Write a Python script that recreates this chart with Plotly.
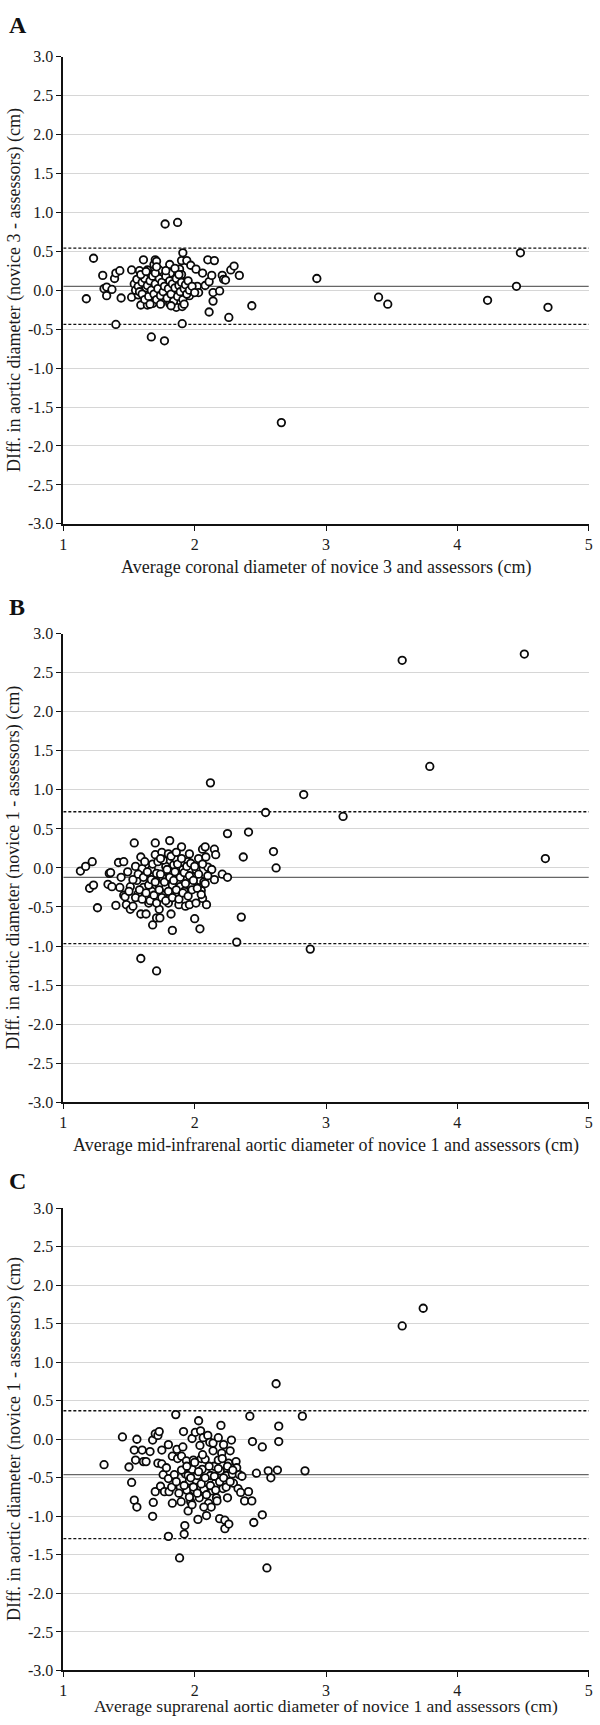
import plotly.graph_objects as go

W, H = 600, 1725

# ---------------- data ----------------
y_ticks = [3.0, 2.5, 2.0, 1.5, 1.0, 0.5, 0.0, -0.5, -1.0, -1.5, -2.0, -2.5, -3.0]
y_ticktext = ["3.0", "2.5", "2.0", "1.5", "1.0", "0.5", "0.0", "-0.5", "-1.0", "-1.5", "-2.0", "-2.5", "-3.0"]
x_ticks = [1, 2, 3, 4, 5]
x_ticktext = ["1", "2", "3", "4", "5"]

panel_letters = ["A", "B", "C"]
x_titles = [
    "Average coronal diameter of novice 3 and assessors (cm)",
    "Average mid-infrarenal aortic diameter of novice 1 and assessors (cm)",
    "Average suprarenal aortic diameter of novice 1 and assessors (cm)",
]
y_titles = [
    "DIff. in aortic diameter (novice 3 - assessors) (cm)",
    "DIff. in aortic diameter (novice 1 - assessors) (cm)",
    "DIff. in aortic diameter (novice 1 - assessors) (cm)",
]

# mean difference, upper and lower limits of agreement
a_limits = [0.05, 0.54, -0.44]
b_limits = [-0.12, 0.72, -0.97]
c_limits = [-0.46, 0.37, -1.29]

a_points = [
    (1.175, -0.11), (1.23, 0.41), (1.30, 0.19), (1.31, 0.02), (1.33, 0.04), (1.33, -0.07),
    (1.37, 0.01), (1.39, 0.15), (1.40, 0.22), (1.40, -0.44), (1.43, 0.25), (1.44, -0.10),
    (1.52, 0.26), (1.52, -0.09), (1.54, 0.08), (1.56, 0.14), (1.58, 0.25), (1.57, -0.06),
    (1.59, -0.19), (1.61, 0.39), (1.63, 0.03), (1.64, 0.26), (1.655, 0.20), (1.64, -0.19),
    (1.67, -0.60), (1.69, 0.33), (1.70, 0.39), (1.71, 0.37), (1.68, -0.17), (1.73, 0.26),
    (1.74, 0.12), (1.755, 0.02), (1.77, -0.65), (1.775, 0.85), (1.77, -0.10), (1.81, 0.33),
    (1.815, 0.22), (1.81, -0.17), (1.84, 0.12), (1.86, -0.22), (1.87, 0.87), (1.885, 0.27),
    (1.90, 0.20), (1.905, -0.21), (1.905, -0.43), (1.91, 0.48), (1.90, 0.38), (1.94, 0.38),
    (1.93, 0.10), (1.97, 0.32), (1.96, -0.07), (2.01, 0.27), (2.02, 0.05), (2.03, -0.03),
    (2.06, 0.22), (2.08, 0.06), (2.10, 0.39), (2.11, 0.11), (2.11, -0.28), (2.13, 0.19),
    (2.14, -0.03), (2.14, -0.14), (2.15, 0.38), (2.19, -0.01), (2.21, 0.19), (2.22, 0.14),
    (2.235, 0.13), (2.26, -0.35), (2.275, 0.26), (2.30, 0.31), (2.34, 0.19), (2.435, -0.20),
    (2.66, -1.70), (2.93, 0.15), (3.40, -0.09), (3.47, -0.18), (4.23, -0.13), (4.45, 0.05),
    (4.48, 0.48), (4.69, -0.22),
    (1.55, 0.00), (1.57, 0.05), (1.58, -0.02), (1.60, 0.10), (1.60, -0.05), (1.62, 0.15),
    (1.62, -0.12), (1.64, 0.06), (1.65, -0.08), (1.66, 0.12), (1.67, 0.00), (1.68, 0.18),
    (1.69, -0.05), (1.70, 0.08), (1.71, -0.12), (1.72, 0.02), (1.73, 0.15), (1.74, -0.07),
    (1.75, 0.10), (1.76, -0.02), (1.77, 0.05), (1.78, 0.18), (1.79, -0.10), (1.80, 0.02),
    (1.81, 0.12), (1.82, -0.05), (1.83, 0.08), (1.84, -0.14), (1.85, 0.03), (1.86, 0.15),
    (1.87, -0.08), (1.88, 0.06), (1.89, -0.02), (1.90, 0.10), (1.91, -0.12), (1.92, 0.02),
    (1.93, 0.07), (1.94, -0.05), (1.95, 0.12), (1.96, 0.00), (1.98, 0.05), (2.00, -0.03),
    (1.70, 0.22), (1.78, 0.25), (1.85, 0.28), (1.88, 0.20), (1.66, -0.18), (1.74, -0.18),
    (1.82, -0.20), (1.92, -0.18), (1.59, 0.20), (1.63, 0.24), (1.71, 0.30),
]

b_points = [
    (1.13, -0.04), (1.17, 0.02), (1.22, 0.08), (1.20, -0.26), (1.23, -0.22), (1.26, -0.51),
    (1.34, -0.21), (1.35, -0.07), (1.36, -0.06), (1.37, -0.24), (1.40, -0.48), (1.42, 0.07),
    (1.43, -0.25), (1.44, -0.12), (1.46, 0.08), (1.46, -0.35), (1.47, -0.37), (1.49, -0.05),
    (1.48, -0.47), (1.51, -0.24), (1.51, -0.53), (1.53, -0.49), (1.54, 0.32), (1.55, 0.02),
    (1.56, -0.16), (1.57, -0.33), (1.59, 0.14), (1.59, -0.59), (1.59, -1.16), (1.60, -0.01),
    (1.61, -0.25), (1.63, -0.10), (1.63, -0.59), (1.65, -0.45), (1.66, -0.20), (1.67, -0.02),
    (1.675, -0.30), (1.68, -0.73), (1.70, 0.32), (1.70, 0.17), (1.71, -0.07), (1.71, -0.64),
    (1.71, -1.32), (1.73, -0.22), (1.73, -0.53), (1.735, -0.64), (1.75, 0.20), (1.755, -0.12),
    (1.76, -0.35), (1.78, 0.02), (1.78, -0.25), (1.80, 0.18), (1.80, -0.45), (1.81, 0.35),
    (1.81, -0.05), (1.82, -0.59), (1.83, -0.80), (1.83, -0.22), (1.84, 0.04), (1.855, -0.36),
    (1.86, 0.11), (1.87, -0.09), (1.88, -0.47), (1.89, -0.24), (1.90, 0.27), (1.91, -0.02),
    (1.92, -0.30), (1.93, -0.49), (1.94, -0.13), (1.95, 0.08), (1.96, -0.47), (1.97, -0.23),
    (1.985, -0.11), (2.00, -0.65), (2.01, -0.45), (2.01, -0.02), (2.03, 0.12), (2.04, -0.16),
    (2.04, -0.78), (2.05, -0.29), (2.06, -0.39), (2.06, 0.24), (2.07, -0.18), (2.08, 0.27),
    (2.085, 0.14), (2.09, -0.47), (2.10, 0.01), (2.12, 1.09), (2.13, -0.02), (2.15, -0.15),
    (2.15, 0.24), (2.16, 0.17), (2.21, -0.08), (2.25, -0.12), (2.25, 0.44), (2.32, -0.95),
    (2.355, -0.63), (2.37, 0.14), (2.41, 0.46), (2.54, 0.71), (2.60, 0.21), (2.62, 0.00),
    (2.83, 0.94), (2.88, -1.04), (3.13, 0.66), (3.58, 2.66), (3.79, 1.30), (4.51, 2.74),
    (4.67, 0.12),
    (1.50, -0.30), (1.53, -0.15), (1.55, -0.38), (1.57, -0.08), (1.58, -0.28), (1.60, -0.40),
    (1.61, -0.12), (1.63, -0.32), (1.64, -0.05), (1.65, -0.22), (1.66, -0.42), (1.67, -0.15),
    (1.68, 0.05), (1.69, -0.35), (1.70, -0.18), (1.71, -0.45), (1.72, 0.08), (1.73, -0.28),
    (1.74, -0.08), (1.75, -0.38), (1.76, 0.10), (1.77, -0.18), (1.78, -0.42), (1.79, -0.02),
    (1.80, -0.30), (1.81, -0.12), (1.82, 0.15), (1.83, -0.38), (1.84, -0.16), (1.85, -0.05),
    (1.86, -0.28), (1.87, 0.05), (1.88, -0.40), (1.89, -0.12), (1.90, 0.12), (1.91, -0.32),
    (1.92, -0.06), (1.93, -0.20), (1.94, 0.02), (1.95, -0.36), (1.96, -0.10), (1.97, 0.06),
    (1.98, -0.28), (1.99, -0.16), (2.00, 0.02), (2.02, -0.26), (2.03, -0.08), (2.05, -0.34),
    (2.06, 0.05), (2.08, -0.20), (2.10, -0.10), (1.62, 0.08), (1.74, 0.12), (1.86, 0.20),
    (1.96, 0.18),
]

c_points = [
    (1.31, -0.33), (1.45, 0.03), (1.50, -0.36), (1.52, -0.56), (1.54, -0.14), (1.54, -0.79),
    (1.55, -0.27), (1.56, 0.00), (1.56, -0.88), (1.60, -0.14), (1.61, -0.29), (1.63, -0.29),
    (1.66, -0.16), (1.68, -0.01), (1.68, -1.00), (1.685, -0.82), (1.70, 0.07), (1.70, -0.68),
    (1.72, 0.05), (1.73, 0.10), (1.72, -0.31), (1.74, -0.61), (1.75, -0.32), (1.75, -0.14),
    (1.76, -0.46), (1.77, -0.68), (1.785, -0.37), (1.80, -0.07), (1.80, -0.51), (1.80, -1.26),
    (1.805, -0.68), (1.825, -0.62), (1.83, -0.83), (1.83, -0.22), (1.845, -0.46), (1.856, 0.32),
    (1.865, -0.13), (1.87, -0.25), (1.885, -1.54), (1.89, -0.62), (1.897, -0.81), (1.90, -0.22),
    (1.91, -0.10), (1.915, 0.10), (1.92, -1.23), (1.925, -1.12), (1.93, -0.45), (1.937, -0.28),
    (1.94, -0.66), (1.95, -0.93), (1.95, -0.47), (1.96, -0.54), (1.97, -0.81), (1.98, -0.39),
    (1.98, 0.01), (1.99, -0.27), (1.995, -0.66), (2.005, 0.09), (2.01, -0.53), (2.02, -0.47),
    (2.025, -1.04), (2.03, 0.24), (2.035, -0.76), (2.04, -0.08), (2.045, 0.11), (2.05, -0.25),
    (2.057, -0.39), (2.065, 0.02), (2.07, -0.65), (2.08, -0.26), (2.09, -0.99), (2.10, 0.05),
    (2.106, -0.83), (2.115, -0.04), (2.12, -0.47), (2.126, -0.88), (2.135, -0.67), (2.14, -0.05),
    (2.149, -0.35), (2.157, -0.57), (2.166, -0.76), (2.18, 0.02), (2.18, -0.27), (2.19, -1.03),
    (2.195, -0.41), (2.20, 0.18), (2.206, -0.18), (2.215, -0.64), (2.22, -0.07), (2.23, -1.16),
    (2.23, -1.05), (2.24, -0.47), (2.25, -0.76), (2.258, -0.31), (2.26, -1.10), (2.27, -0.15),
    (2.28, -0.01), (2.287, -0.45), (2.295, -0.57), (2.315, -0.29), (2.32, -0.37), (2.33, -0.64),
    (2.34, -0.46), (2.35, -0.69), (2.36, -0.48), (2.38, -0.80), (2.41, -0.68), (2.42, 0.30),
    (2.435, -0.80), (2.44, -0.03), (2.45, -1.08), (2.47, -0.44), (2.515, -0.10), (2.515, -0.98),
    (2.55, -1.67), (2.56, -0.41), (2.58, -0.50), (2.62, 0.72), (2.63, -0.40), (2.64, -0.03),
    (2.64, 0.17), (2.82, 0.30), (2.84, -0.41), (3.58, 1.47), (3.74, 1.70),
    (1.86, -0.55), (1.88, -0.70), (1.90, -0.40), (1.92, -0.60), (1.94, -0.35), (1.96, -0.75),
    (1.97, -0.50), (1.99, -0.62), (2.00, -0.30), (2.02, -0.70), (2.03, -0.42), (2.05, -0.58),
    (2.06, -0.20), (2.08, -0.50), (2.09, -0.72), (2.11, -0.35), (2.12, -0.60), (2.14, -0.15),
    (2.15, -0.48), (2.16, -0.66), (2.18, -0.38), (2.19, -0.55), (2.21, -0.25), (2.22, -0.50),
    (2.24, -0.62), (2.25, -0.35), (2.27, -0.55), (2.29, -0.40), (1.98, -0.85), (2.07, -0.88),
    (2.17, -0.80),
]

# ---------------- layout geometry (pixels) ----------------
PLOT_X0, PLOT_X1 = 60, 593
panels_px = [(49, 521), (632, 1105), (1212, 1679)]   # top, bottom of plot area
letter_y_px = [17, 605, 1185]
xtitle_y_px = [565, 1149, 1715]
xtitle_sizes = [18, 18, 17.5]
X_RANGE = [0.999, 5.003]

FONT = "Liberation Serif"
TXT = "#1a1a1a"

fig = go.Figure()
all_points = [a_points, b_points, c_points]
all_limits = [a_limits, b_limits, c_limits]

layout_axes = {}
annotations = []
for i in range(3):
    xa = "x" if i == 0 else f"x{i+1}"
    ya = "y" if i == 0 else f"y{i+1}"
    top, bot = panels_px[i]
    mean, upper, lower = all_limits[i]
    # limits of agreement (dotted) and mean (solid)
    for val, dash, col, wid in [(upper, "3px,2px", "#111111", 1.3),
                                (lower, "3px,2px", "#111111", 1.3),
                                (mean, "solid", "#666666", 1.3)]:
        fig.add_trace(go.Scatter(x=[1, 5], y=[val, val], mode="lines",
                                 line=dict(color=col, width=wid, dash=dash),
                                 xaxis=xa, yaxis=ya, showlegend=False, hoverinfo="skip"))
    pts = all_points[i]
    fig.add_trace(go.Scatter(
        x=[p[0] for p in pts], y=[p[1] for p in pts], mode="markers",
        marker=dict(symbol="circle", size=7.5, color="white",
                    line=dict(color="#0a0a0a", width=1.8)),
        xaxis=xa, yaxis=ya, showlegend=False, cliponaxis=False))

    key_x = "xaxis" if i == 0 else f"xaxis{i+1}"
    key_y = "yaxis" if i == 0 else f"yaxis{i+1}"
    layout_axes[key_x] = dict(
        domain=[PLOT_X0 / W, PLOT_X1 / W], range=X_RANGE, anchor=ya,
        tickmode="array", tickvals=x_ticks, ticktext=x_ticktext,
        showgrid=False, zeroline=False, ticklabeloverflow="allow",
        showline=True, linecolor="#111111", linewidth=1.5,
        ticks="outside", ticklen=5, tickwidth=1.2, tickcolor="#111111",
        tickfont=dict(family=FONT, size=16, color=TXT))
    layout_axes[key_y] = dict(
        domain=[1 - bot / H, 1 - top / H], range=[-3, 3], anchor=xa,
        tickmode="array", tickvals=y_ticks, ticktext=y_ticktext,
        showgrid=True, gridcolor="#d6d6d6", gridwidth=1, zeroline=False,
        ticklabeloverflow="allow",
        showline=True, linecolor="#111111", linewidth=1.5,
        ticks="outside", ticklen=5, tickwidth=1.2, tickcolor="#111111",
        tickfont=dict(family=FONT, size=16, color=TXT))

    annotations.append(dict(
        text=f"<b>{panel_letters[i]}</b>", x=3 / W, y=1 - letter_y_px[i] / H,
        xref="paper", yref="paper", xanchor="left", yanchor="middle", showarrow=False,
        font=dict(family=FONT, size=24, color="#111111")))
    annotations.append(dict(
        text=x_titles[i], x=(PLOT_X0 + PLOT_X1) / 2 / W, y=1 - xtitle_y_px[i] / H,
        xref="paper", yref="paper", xanchor="center", yanchor="middle", showarrow=False,
        font=dict(family=FONT, size=xtitle_sizes[i], color=TXT)))
    annotations.append(dict(
        text=y_titles[i], x=10 / W, y=1 - (top + bot) / 2 / H, textangle=-90,
        xref="paper", yref="paper", xanchor="center", yanchor="middle", showarrow=False,
        font=dict(family=FONT, size=18, color=TXT)))

fig.update_layout(
    width=W, height=H, margin=dict(l=0, r=0, t=0, b=0),
    paper_bgcolor="white", plot_bgcolor="white",
    annotations=annotations, showlegend=False, **layout_axes)

fig.write_html("out.html", config={"displayModeBar": False},
               post_script="document.body.style.margin='0';document.body.style.padding='0';")
